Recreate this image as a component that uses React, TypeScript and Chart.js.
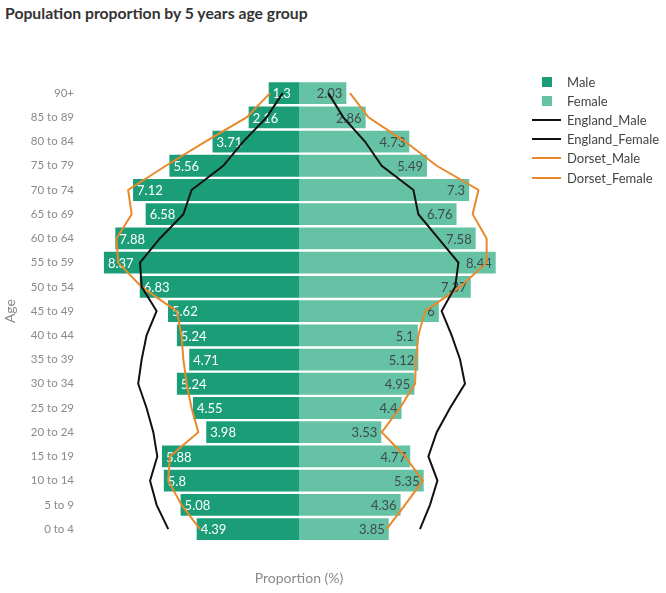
import { useEffect, useRef } from "react"
import { Chart, registerables } from "chart.js"

Chart.register(...registerables)

// age groups, youngest first (axis is reversed so 90+ sits on top)
const ageGroups = [
  "0 to 4", "5 to 9", "10 to 14", "15 to 19", "20 to 24", "25 to 29",
  "30 to 34", "35 to 39", "40 to 44", "45 to 49", "50 to 54", "55 to 59",
  "60 to 64", "65 to 69", "70 to 74", "75 to 79", "80 to 84", "85 to 89", "90+",
]

const maleValues = [4.39, 5.08, 5.8, 5.88, 3.98, 4.55, 5.24, 4.71, 5.24, 5.62, 6.83, 8.37, 7.88, 6.58, 7.12, 5.56, 3.71, 2.16, 1.3]
const femaleValues = [3.85, 4.36, 5.35, 4.77, 3.53, 4.4, 4.95, 5.12, 5.1, 6, 7.37, 8.44, 7.58, 6.76, 7.3, 5.49, 4.73, 2.86, 2.03]

const englandMale = [5.61, 6.11, 6.39, 6.08, 6.25, 6.54, 6.9, 6.75, 6.54, 6.11, 6.75, 6.82, 5.97, 4.96, 4.61, 3.25, 2.39, 1.39, 0.7]
const englandFemale = [5.19, 5.62, 5.94, 5.55, 5.91, 6.48, 7.12, 6.91, 6.55, 6.12, 6.7, 6.84, 5.98, 5.12, 4.91, 3.55, 2.83, 1.9, 1.26]
const dorsetMale = [4.25, 5.04, 5.61, 5.54, 4.32, 4.61, 4.82, 4.96, 5.04, 5.25, 6.75, 7.76, 7.83, 7.18, 7.33, 5.71, 4.02, 2.25, 1.24]
const dorsetFemale = [3.76, 4.55, 5.31, 4.55, 3.55, 4.33, 4.98, 5.02, 5.12, 5.41, 6.91, 8.05, 8.05, 7.45, 7.7, 5.91, 4.55, 2.98, 2.19]

const MALE_COLOR = "#1b9e77"
const FEMALE_COLOR = "#66c2a5"
const ENGLAND_COLOR = "#111111"
const DORSET_COLOR = "#e8892b"
const FONT = "Lato, 'Open Sans', sans-serif"

const legendItems = [
  { label: "Male", color: MALE_COLOR, kind: "box" },
  { label: "Female", color: FEMALE_COLOR, kind: "box" },
  { label: "England_Male", color: ENGLAND_COLOR, kind: "line" },
  { label: "England_Female", color: ENGLAND_COLOR, kind: "line" },
  { label: "Dorset_Male", color: DORSET_COLOR, kind: "line" },
  { label: "Dorset_Female", color: DORSET_COLOR, kind: "line" },
]

// value labels drawn inside the end of each bar
const barLabels = {
  id: "barLabels",
  afterDatasetDraw(chart: Chart, args: any) {
    const idx = args.index
    if (idx > 1) return
    const ctx = chart.ctx
    const values = idx === 0 ? maleValues : femaleValues
    ctx.save()
    ctx.font = `13px ${FONT}`
    ctx.textBaseline = "middle"
    args.meta.data.forEach((bar: any, i: number) => {
      const text = String(values[i])
      if (idx === 0) {
        ctx.fillStyle = "#ffffff"
        ctx.textAlign = "left"
        ctx.fillText(text, bar.x + 4, bar.y + 1)
      } else {
        ctx.fillStyle = "#3f4b4b"
        ctx.textAlign = "right"
        ctx.fillText(text, bar.x - 4, bar.y + 1)
      }
    })
    ctx.restore()
  },
}

const PopulationPyramid = () => {
  const chartRef = useRef<HTMLCanvasElement>(null)
  const chartInstance = useRef<Chart | null>(null)

  useEffect(() => {
    if (!chartRef.current) return
    if (chartInstance.current) chartInstance.current.destroy()
    const ctx = chartRef.current.getContext("2d")
    if (!ctx) return

    const lineDataset = (label: string, data: number[], color: string) => ({
      type: "line" as const,
      label,
      data,
      borderColor: color,
      backgroundColor: color,
      borderWidth: 2,
      pointRadius: 0,
      tension: 0,
      fill: false,
      order: 1,
    })

    chartInstance.current = new Chart(ctx, {
      type: "bar",
      data: {
        labels: ageGroups,
        datasets: [
          {
            label: "Male",
            data: maleValues.map((v) => -v),
            backgroundColor: MALE_COLOR,
            grouped: false,
            barPercentage: 0.9,
            categoryPercentage: 1,
            order: 2,
          },
          {
            label: "Female",
            data: femaleValues,
            backgroundColor: FEMALE_COLOR,
            grouped: false,
            barPercentage: 0.9,
            categoryPercentage: 1,
            order: 2,
          },
          lineDataset("England_Male", englandMale.map((v) => -v), ENGLAND_COLOR),
          lineDataset("England_Female", englandFemale, ENGLAND_COLOR),
          lineDataset("Dorset_Male", dorsetMale.map((v) => -v), DORSET_COLOR),
          lineDataset("Dorset_Female", dorsetFemale, DORSET_COLOR),
        ] as any,
      },
      options: {
        indexAxis: "y",
        animation: false,
        responsive: false,
        layout: { padding: { top: 81, right: 150, bottom: 2, left: 0 } },
        plugins: {
          legend: { display: false },
          tooltip: { enabled: false },
        },
        scales: {
          x: {
            min: -9.31,
            max: 9.31,
            grid: { display: false, drawTicks: false },
            border: { display: false },
            ticks: { display: false },
            title: {
              display: true,
              text: "Proportion (%)",
              color: "#8a8a8a",
              font: { family: FONT, size: 14 },
              padding: { top: 29, bottom: 4 },
            },
          },
          y: {
            reverse: true,
            grid: { display: false, drawTicks: false },
            border: { display: false },
            ticks: {
              color: "#8a8a8a",
              font: { family: FONT, size: 11.5 },
              padding: 8,
            },
            title: {
              display: true,
              text: "Age",
              color: "#8a8a8a",
              font: { family: FONT, size: 14 },
              padding: { top: 2, bottom: 0 },
            },
            afterFit: (scale: any) => {
              scale.width = 82
            },
          },
        },
      },
      plugins: [barLabels],
    })

    return () => {
      if (chartInstance.current) {
        chartInstance.current.destroy()
        chartInstance.current = null
      }
    }
  }, [])

  return (
    <div style={{ position: "fixed", left: 0, top: 0, width: 666, height: 593, background: "#fff", fontFamily: FONT }}>
      <div style={{ position: "absolute", left: 5, top: 3, fontSize: 15.75, fontWeight: 700, color: "#333" }}>
        Population proportion by 5 years age group
      </div>
      <canvas ref={chartRef} width={666} height={593} style={{ position: "absolute", left: 0, top: 0 }}></canvas>
      <div style={{ position: "absolute", left: 532, top: 72 }}>
        {legendItems.map((item) => (
          <div key={item.label} style={{ display: "flex", alignItems: "center", height: 19.2, fontSize: 13, color: "#444" }}>
            <div style={{ width: 29, display: "flex", justifyContent: "center", marginRight: 6 }}>
              {item.kind === "box" ? (
                <div style={{ width: 10, height: 10, background: item.color }}></div>
              ) : (
                <div style={{ width: 29, height: 2, background: item.color }}></div>
              )}
            </div>
            <span>{item.label}</span>
          </div>
        ))}
      </div>
    </div>
  )
}

export default function App() {
  return <PopulationPyramid />
}
